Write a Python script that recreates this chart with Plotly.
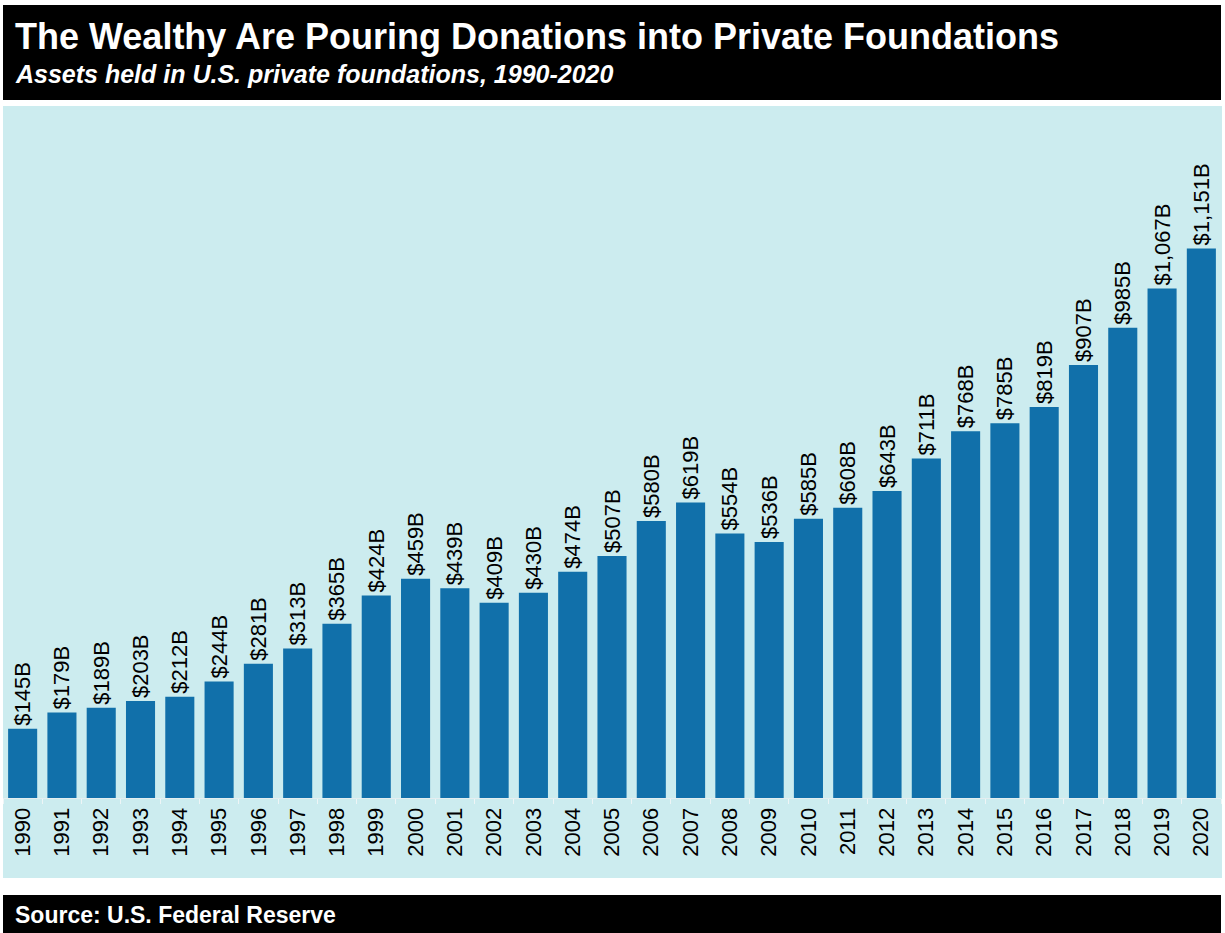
import plotly.graph_objects as go

years = [str(y) for y in range(1990, 2021)]
assets = [145, 179, 189, 203, 212, 244, 281, 313, 365, 424, 459, 439, 409, 430, 474,
          507, 580, 619, 554, 536, 585, 608, 643, 711, 768, 785, 819, 907, 985, 1067, 1151]
labels = ["$" + format(v, ",") + "B" for v in assets]

W, H = 1225, 933
PL, PR, PT, PB = 3, 1221, 108, 798
FONT = "Liberation Sans, Arial, sans-serif"


def fx(px):
    return (px - PL) / (PR - PL)


def fy(py):
    return (PB - py) / (PB - PT)


fig = go.Figure(go.Bar(
    x=years, y=assets, text=labels, textposition="outside", textangle=-90,
    textfont=dict(family=FONT, size=22, color="black"),
    marker=dict(color="#1170AA", line=dict(width=0)),
    width=0.74, cliponaxis=False, constraintext="none",
))

shapes = [
    dict(type="rect", xref="paper", yref="paper", x0=fx(3), x1=fx(1222), y0=fy(106), y1=fy(878),
         fillcolor="#CCECEF", line=dict(width=0), layer="below"),
    dict(type="rect", xref="paper", yref="paper", x0=fx(3), x1=fx(1221), y0=fy(5), y1=fy(100),
         fillcolor="black", line=dict(width=0), layer="below"),
    dict(type="rect", xref="paper", yref="paper", x0=fx(3), x1=fx(1221), y0=fy(895), y1=fy(940),
         fillcolor="black", line=dict(width=0), layer="below"),
]

annotations = [
    dict(text="<b>The Wealthy Are Pouring Donations into Private Foundations</b>", xref="paper", yref="paper",
         x=fx(13), y=fy(36.5), xanchor="left", yanchor="middle", showarrow=False,
         font=dict(family=FONT, size=36, color="white")),
    dict(text="<b><i>Assets held in U.S. private foundations, 1990-2020</i></b>", xref="paper", yref="paper",
         x=fx(13), y=fy(74), xanchor="left", yanchor="middle", showarrow=False,
         font=dict(family=FONT, size=25, color="white")),
    dict(text="<b>Source: U.S. Federal Reserve</b>", xref="paper", yref="paper",
         x=fx(13), y=fy(914.5), xanchor="left", yanchor="middle", showarrow=False,
         font=dict(family=FONT, size=23, color="white")),
]

fig.update_layout(
    width=W, height=H,
    margin=dict(l=PL, r=W - PR, t=PT, b=H - PB, pad=0),
    paper_bgcolor="white", plot_bgcolor="rgba(0,0,0,0)",
    shapes=shapes, annotations=annotations, showlegend=False,
    bargap=0.26,
)
fig.update_xaxes(type="category", tickangle=-90, tickson="boundaries", ticks="outside", ticklen=5,
                 tickcolor="#EEF5F6", showline=True, linecolor="#E4EEF0", linewidth=1,
                 tickfont=dict(family=FONT, size=22, color="black"), showgrid=False, fixedrange=True)
fig.update_yaxes(range=[0, 1445], visible=False, showgrid=False, fixedrange=True)

fig.write_html("out.html", config={"displayModeBar": False},
               post_script="document.body.style.margin='0';document.body.style.overflow='hidden';")
